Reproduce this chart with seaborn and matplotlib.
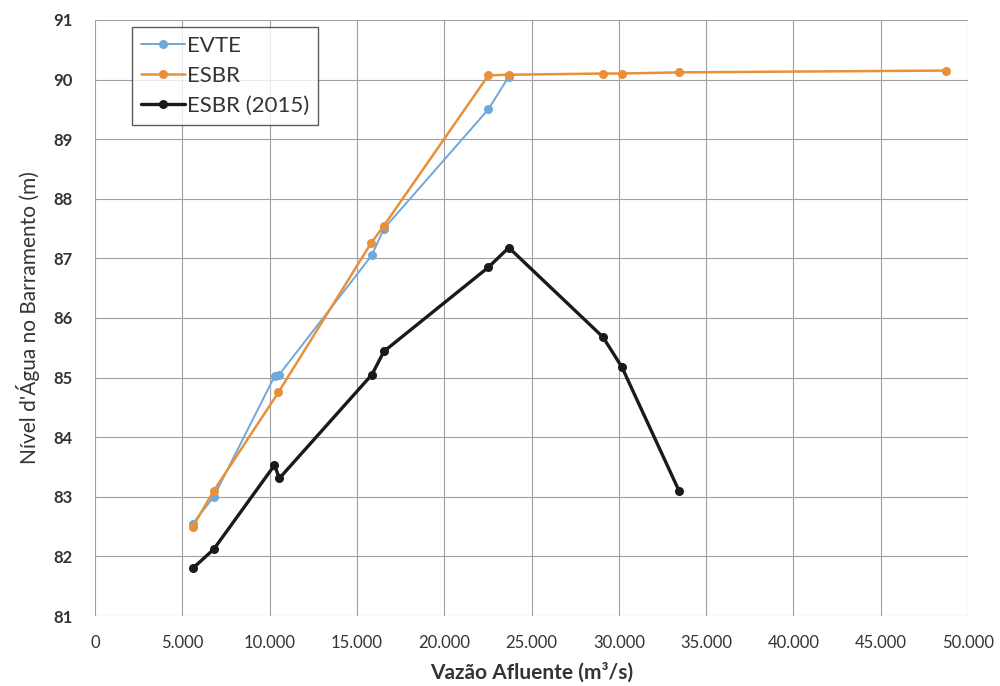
import matplotlib
matplotlib.use("Agg")
import matplotlib.pyplot as plt
import matplotlib.ticker as mticker
import seaborn as sns
import pandas as pd

# Vazão afluente (m3/s) e nível d'água (m)
evte_q = [5600, 6800, 10300, 10550, 15850, 16550, 22530, 23700]
evte_nivel = [82.55, 83.0, 85.03, 85.05, 87.05, 87.5, 89.5, 90.05]

esbr_q = [5600, 6800, 10500, 15800, 16550, 22530, 23700, 29090, 30170, 33450, 48750]
esbr_nivel = [82.5, 83.1, 84.75, 87.25, 87.55, 90.07, 90.08, 90.1, 90.1, 90.12, 90.15]

esbr2015_q = [5600, 6800, 10280, 10560, 15860, 16550, 22530, 23700, 29090, 30170, 33450]
esbr2015_nivel = [81.8, 82.12, 83.53, 83.31, 85.05, 85.44, 86.85, 87.18, 85.68, 85.18, 83.1]

series_names = ["EVTE", "ESBR", "ESBR (2015)"]
x_ticks = list(range(0, 50001, 5000))
y_ticks = list(range(81, 92))

colors = {"EVTE": "#6fa8dc", "ESBR": "#e8903a", "ESBR (2015)": "#1a1a1a"}
widths = {"EVTE": 1.4, "ESBR": 1.8, "ESBR (2015)": 2.4}

frames = [
    pd.DataFrame({"q": evte_q, "nivel": evte_nivel, "serie": "EVTE"}),
    pd.DataFrame({"q": esbr_q, "nivel": esbr_nivel, "serie": "ESBR"}),
    pd.DataFrame({"q": esbr2015_q, "nivel": esbr2015_nivel, "serie": "ESBR (2015)"}),
]

sns.set_style("white")
plt.rcParams["font.family"] = ["Lato", "DejaVu Sans"]

fig = plt.figure(figsize=(10, 6.86), dpi=100)
ax = fig.add_axes([0.095, 0.102, 0.873, 0.869])

for df, name in zip(frames, series_names):
    sns.lineplot(data=df, x="q", y="nivel", ax=ax, sort=False, estimator=None,
                 color=colors[name], linewidth=widths[name], marker="o",
                 markersize=6.5, markeredgewidth=0, label=name)

ax.set_xlim(0, 50000)
ax.set_ylim(81, 91)
ax.set_xticks(x_ticks)
ax.set_yticks(y_ticks)
ax.xaxis.set_major_formatter(mticker.FuncFormatter(
    lambda v, p: "0" if v == 0 else f"{int(v):,}".replace(",", ".")))
ax.grid(True, color="#a0a0a0", linewidth=0.8)
for s in ax.spines.values():
    s.set_visible(False)

ax.tick_params(axis="x", labelsize=12, colors="#333333", pad=14, length=0)
ax.tick_params(axis="y", labelsize=12, colors="#333333", pad=16, length=0)
for t in ax.get_yticklabels():
    t.set_fontweight("bold")

ax.set_xlabel("Vazão Afluente (m³/s)", fontsize=15, fontweight="bold",
              color="#333333", labelpad=8)
ax.set_ylabel("Nível d'Água no Barramento (m)", fontsize=15, color="#333333",
              labelpad=10)

leg = ax.legend(loc="upper left", bbox_to_anchor=(0.042, 0.988), fontsize=16,
                frameon=True, fancybox=False, handlelength=2.0, handletextpad=0.1,
                borderpad=0.4, labelspacing=0.45, borderaxespad=0)
leg.get_frame().set_edgecolor("#333333")
leg.get_frame().set_linewidth(1.0)
for t in leg.get_texts():
    t.set_color("#333333")

fig.savefig("out.png", dpi=100, facecolor="white")
